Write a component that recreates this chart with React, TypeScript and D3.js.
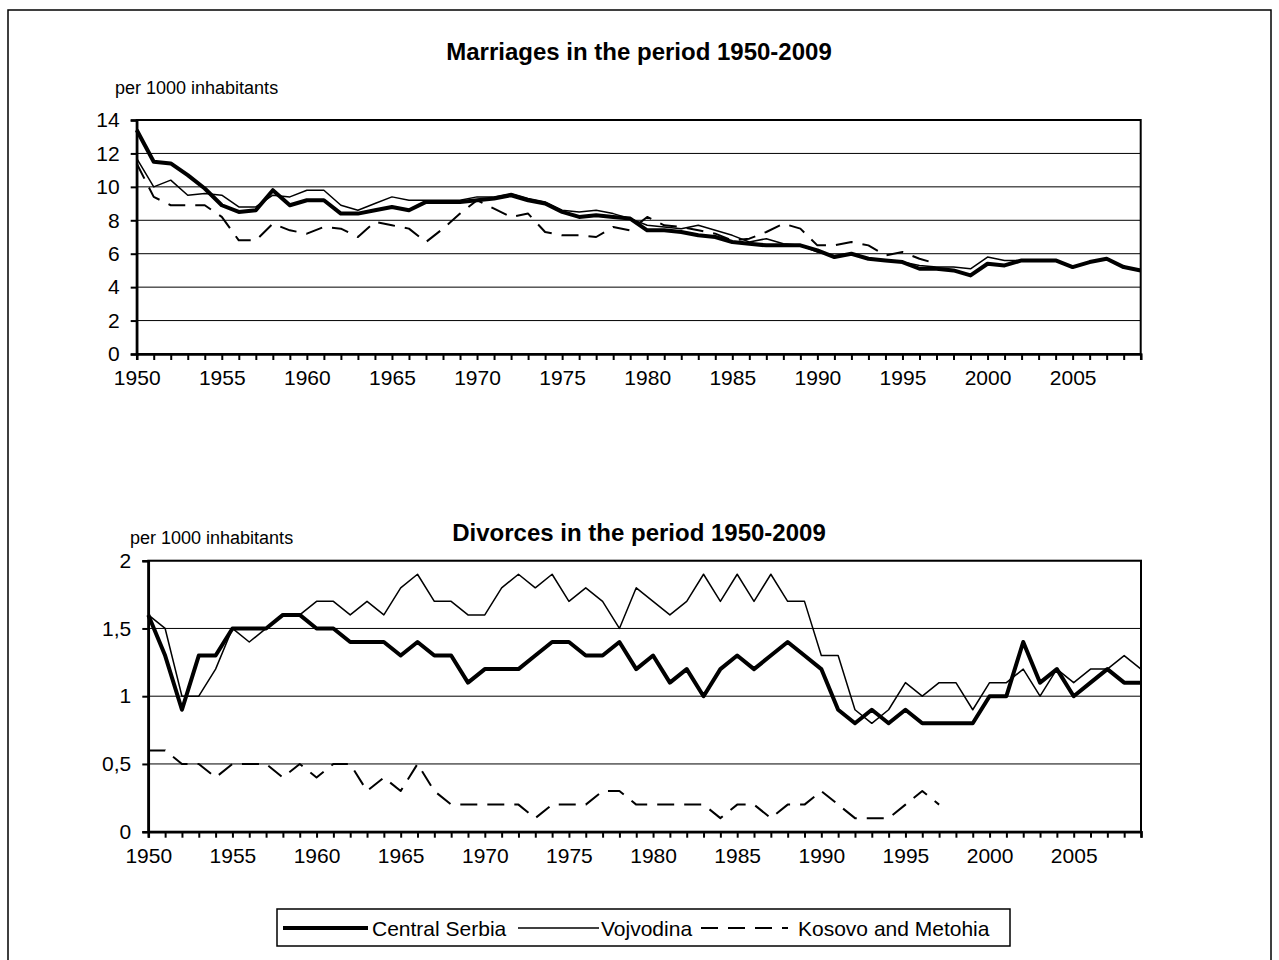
import React, { useEffect, useRef } from 'react'
import * as d3 from 'd3'

const years = d3.range(1950, 2010)
const yearLabels = [1950, 1955, 1960, 1965, 1970, 1975, 1980, 1985, 1990, 1995, 2000, 2005]
const seriesNames = ['Central Serbia', 'Vojvodina', 'Kosovo and Metohia']

// marriages per 1000 inhabitants, 1950-2009
const marriagesCentral = [
  13.4, 11.5, 11.4, 10.7, 9.9, 8.9, 8.5, 8.6, 9.8, 8.9,
  9.2, 9.2, 8.4, 8.4, 8.6, 8.8, 8.6, 9.1, 9.1, 9.1,
  9.2, 9.3, 9.5, 9.2, 9.0, 8.5, 8.2, 8.3, 8.2, 8.1,
  7.4, 7.4, 7.3, 7.1, 7.0, 6.7, 6.6, 6.5, 6.5, 6.5,
  6.2, 5.8, 6.0, 5.7, 5.6, 5.5, 5.1, 5.1, 5.0, 4.7,
  5.4, 5.3, 5.6, 5.6, 5.6, 5.2, 5.5, 5.7, 5.2, 5.0,
]
const marriagesVojvodina = [
  11.7, 10.0, 10.4, 9.5, 9.6, 9.5, 8.8, 8.8, 9.5, 9.4,
  9.8, 9.8, 8.9, 8.6, 9.0, 9.4, 9.2, 9.2, 9.2, 9.2,
  9.4, 9.4, 9.6, 9.3, 9.1, 8.6, 8.5, 8.6, 8.4, 8.1,
  7.7, 7.6, 7.5, 7.7, 7.4, 7.1, 6.7, 6.9, 6.6, 6.5,
  6.1, 5.9, 6.0, 5.7, 5.6, 5.5, 5.3, 5.2, 5.2, 5.1,
  5.8, 5.6, 5.6, 5.6, 5.6, 5.2, 5.5, 5.7, 5.2, 5.0,
]
const marriagesKosovo = [
  11.4, 9.4, 8.9, 8.9, 8.9, 8.2, 6.8, 6.8, 7.8, 7.4,
  7.2, 7.6, 7.5, 7.0, 7.9, 7.7, 7.5, 6.7, 7.5, 8.4,
  9.2, 8.7, 8.2, 8.4, 7.3, 7.1, 7.1, 7.0, 7.6, 7.4,
  8.2, 7.7, 7.6, 7.4, 7.2, 6.8, 6.9, 7.3, 7.8, 7.5,
  6.5, 6.5, 6.7, 6.5, 5.9, 6.1, 5.7, 5.4, null, null,
  null, null, null, null, null, null, null, null, null, null,
]

// divorces per 1000 inhabitants, 1950-2009
const divorcesCentral = [
  1.6, 1.3, 0.9, 1.3, 1.3, 1.5, 1.5, 1.5, 1.6, 1.6,
  1.5, 1.5, 1.4, 1.4, 1.4, 1.3, 1.4, 1.3, 1.3, 1.1,
  1.2, 1.2, 1.2, 1.3, 1.4, 1.4, 1.3, 1.3, 1.4, 1.2,
  1.3, 1.1, 1.2, 1.0, 1.2, 1.3, 1.2, 1.3, 1.4, 1.3,
  1.2, 0.9, 0.8, 0.9, 0.8, 0.9, 0.8, 0.8, 0.8, 0.8,
  1.0, 1.0, 1.4, 1.1, 1.2, 1.0, 1.1, 1.2, 1.1, 1.1,
]
const divorcesVojvodina = [
  1.6, 1.5, 1.0, 1.0, 1.2, 1.5, 1.4, 1.5, 1.6, 1.6,
  1.7, 1.7, 1.6, 1.7, 1.6, 1.8, 1.9, 1.7, 1.7, 1.6,
  1.6, 1.8, 1.9, 1.8, 1.9, 1.7, 1.8, 1.7, 1.5, 1.8,
  1.7, 1.6, 1.7, 1.9, 1.7, 1.9, 1.7, 1.9, 1.7, 1.7,
  1.3, 1.3, 0.9, 0.8, 0.9, 1.1, 1.0, 1.1, 1.1, 0.9,
  1.1, 1.1, 1.2, 1.0, 1.2, 1.1, 1.2, 1.2, 1.3, 1.2,
]
const divorcesKosovo = [
  0.6, 0.6, 0.5, 0.5, 0.4, 0.5, 0.5, 0.5, 0.4, 0.5,
  0.4, 0.5, 0.5, 0.3, 0.4, 0.3, 0.5, 0.3, 0.2, 0.2,
  0.2, 0.2, 0.2, 0.1, 0.2, 0.2, 0.2, 0.3, 0.3, 0.2,
  0.2, 0.2, 0.2, 0.2, 0.1, 0.2, 0.2, 0.1, 0.2, 0.2,
  0.3, 0.2, 0.1, 0.1, 0.1, 0.2, 0.3, 0.2, null, null,
  null, null, null, null, null, null, null, null, null, null,
]

const marriageTicks = [0, 2, 4, 6, 8, 10, 12, 14]
const divorceTicks = [0, 0.5, 1, 1.5, 2]

const FONT = '"Liberation Sans", Arial, Helvetica, sans-serif'
const lineStyles = [
  { width: 4, dash: null },
  { width: 1.5, dash: null },
  { width: 2, dash: '17,10' },
]

function drawPanel(svg, p) {
  const x = d3.scalePoint().domain(years).range([p.left, p.right])
  const y = d3.scaleLinear().domain([0, p.ticks[p.ticks.length - 1]]).range([p.bottom, p.top])

  const g = svg.append('g')

  // title + unit
  g.append('text')
    .attr('x', 639).attr('y', p.titleY)
    .attr('text-anchor', 'middle')
    .style('font-size', '24px').style('font-weight', 'bold')
    .text(p.title)
  g.append('text')
    .attr('x', p.unitX).attr('y', p.unitY)
    .style('font-size', '18px')
    .text('per 1000 inhabitants')

  // gridlines
  g.selectAll('.grid')
    .data(p.ticks.slice(1))
    .enter()
    .append('line')
    .attr('x1', p.left).attr('x2', p.right)
    .attr('y1', d => y(d)).attr('y2', d => y(d))
    .attr('stroke', '#000').attr('stroke-width', 1)

  // plot border
  g.append('rect')
    .attr('x', p.left).attr('y', p.top)
    .attr('width', p.right - p.left).attr('height', p.bottom - p.top)
    .attr('fill', 'none').attr('stroke', '#000').attr('stroke-width', 2)

  const yAxis = g.append('g')
    .attr('transform', `translate(${p.left},0)`)
    .call(d3.axisLeft(y).tickValues(p.ticks).tickSizeOuter(0).tickSize(6).tickPadding(11)
      .tickFormat(d => String(d).replace('.', ',')))
  const xAxis = g.append('g')
    .attr('transform', `translate(0,${p.bottom})`)
    .call(d3.axisBottom(x).tickValues(years).tickSizeOuter(0).tickSize(6).tickPadding(10)
      .tickFormat(d => (yearLabels.includes(d) ? String(d) : '')))

  for (const ax of [yAxis, xAxis]) {
    ax.select('.domain').attr('stroke', '#000').attr('stroke-width', 2.5)
    ax.selectAll('.tick line').attr('stroke', '#000').attr('stroke-width', 2)
    ax.selectAll('.tick text')
      .attr('fill', '#000')
      .style('font-size', '21px')
      .style('font-family', FONT)
  }

  const line = d3.line()
    .defined(d => d != null)
    .x((d, i) => x(years[i]))
    .y(d => y(d))

  // draw kosovo first, then vojvodina, central on top
  ;[2, 1, 0].forEach(k => {
    g.append('path')
      .datum(p.series[k])
      .attr('d', line)
      .attr('fill', 'none')
      .attr('stroke', '#000')
      .attr('stroke-width', lineStyles[k].width)
      .attr('stroke-linejoin', 'round')
      .attr('stroke-dasharray', lineStyles[k].dash)
  })
}

function drawLegend(svg) {
  const g = svg.append('g')
  g.append('rect')
    .attr('x', 277).attr('y', 909)
    .attr('width', 733).attr('height', 37)
    .attr('fill', '#fff').attr('stroke', '#000').attr('stroke-width', 1.5)

  const items = [
    { x1: 283, x2: 368, tx: 372 },
    { x1: 518, x2: 599, tx: 601 },
    { x1: 701, x2: 788, tx: 798 },
  ]
  items.forEach((it, k) => {
    g.append('line')
      .attr('x1', it.x1).attr('x2', it.x2)
      .attr('y1', 928).attr('y2', 928)
      .attr('stroke', '#000')
      .attr('stroke-width', lineStyles[k].width)
      .attr('stroke-dasharray', lineStyles[k].dash)
    g.append('text')
      .attr('x', it.tx).attr('y', 935.5)
      .style('font-size', '21px')
      .text(seriesNames[k])
  })
}

export default function App() {
  const ref = useRef(null)

  useEffect(() => {
    const svg = d3.select(ref.current)
    svg.selectAll('*').remove()

    svg.append('rect')
      .attr('x', 8).attr('y', 10)
      .attr('width', 1263).attr('height', 960)
      .attr('fill', '#fff').attr('stroke', '#000').attr('stroke-width', 1.5)

    drawPanel(svg, {
      title: 'Marriages in the period 1950-2009',
      titleY: 60,
      unitX: 115, unitY: 94,
      left: 136.7, right: 1140.7, top: 120, bottom: 354,
      ticks: marriageTicks,
      series: [marriagesCentral, marriagesVojvodina, marriagesKosovo],
    })
    drawPanel(svg, {
      title: 'Divorces in the period 1950-2009',
      titleY: 541,
      unitX: 130, unitY: 544,
      left: 148.3, right: 1141, top: 560.7, bottom: 831.7,
      ticks: divorceTicks,
      series: [divorcesCentral, divorcesVojvodina, divorcesKosovo],
    })
    drawLegend(svg)
  }, [])

  return (
    <svg
      ref={ref}
      width={1279}
      height={960}
      style={{ position: 'absolute', left: 0, top: 0, background: '#fff', fontFamily: FONT }}
    />
  )
}
